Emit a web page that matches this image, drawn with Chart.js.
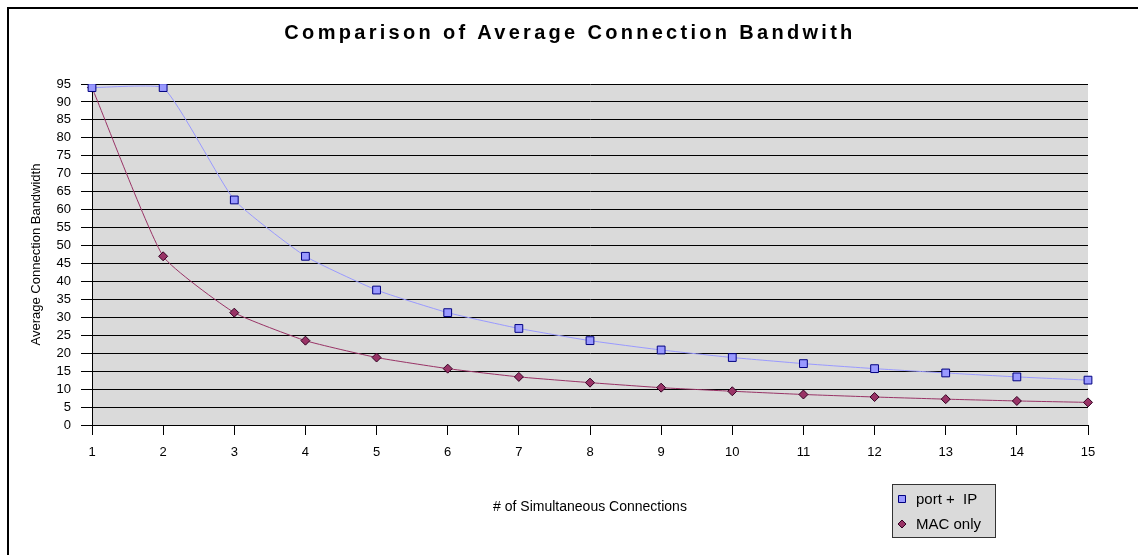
<!DOCTYPE html>
<html lang="en">

<head>
  <meta charset="UTF-8">
  <title>Comparison of Average Connection Bandwith</title>
  <script src="https://cdn.jsdelivr.net/npm/chart.js"></script>
  <style>
    body { margin: 0; background: #fff; }
    canvas { display: block; }
  </style>
</head>

<body>
  <canvas id="meuGrafico" width="1138" height="555"></canvas>
  <script>
    // dados
    const conexoes = ['1', '2', '3', '4', '5', '6', '7', '8', '9', '10', '11', '12', '13', '14', '15'];
    const portIp = [94, 94, 62.7, 47, 37.6, 31.3, 26.9, 23.5, 20.9, 18.8, 17.1, 15.7, 14.5, 13.4, 12.5];
    const macOnly = [94, 47, 31.3, 23.5, 18.8, 15.7, 13.4, 11.8, 10.4, 9.4, 8.5, 7.8, 7.2, 6.7, 6.3];
    const yMin = 0, yMax = 95, yStep = 5;

    const tituloTexto = 'Comparison of Average Connection Bandwith';
    const fonte = "'Liberation Sans', Arial, sans-serif";

    // fundo cinza, moldura, título e legenda
    const extras = {
      id: 'extras',
      beforeDraw(chart) {
        const { ctx, chartArea: a } = chart;
        ctx.save();
        ctx.fillStyle = '#fff';
        ctx.fillRect(0, 0, chart.width, chart.height);
        ctx.fillStyle = '#dadada';
        ctx.fillRect(a.left, a.top, a.right - a.left, a.bottom - a.top);
        ctx.strokeStyle = '#000';
        ctx.lineWidth = 2;
        ctx.strokeRect(8, 8, chart.width + 20, chart.height + 20);
        ctx.restore();
      },
      afterDraw(chart) {
        const ctx = chart.ctx;
        ctx.save();
        // título
        ctx.font = 'bold 20px ' + fonte;
        ctx.letterSpacing = '3.3px';
        ctx.fillStyle = '#000';
        ctx.textAlign = 'center';
        ctx.textBaseline = 'middle';
        ctx.fillText(tituloTexto, 570, 33);
        ctx.letterSpacing = '0px';

        // legenda
        ctx.fillStyle = '#dadada';
        ctx.fillRect(892, 484, 103, 53);
        ctx.strokeStyle = '#333';
        ctx.lineWidth = 1;
        ctx.strokeRect(892.5, 484.5, 103, 53);
        ctx.font = '15px ' + fonte;
        ctx.textAlign = 'left';
        chart.data.datasets.forEach((ds, i) => {
          const y = 499 + i * 25;
          ctx.fillStyle = ds.pointBackgroundColor;
          ctx.strokeStyle = ds.pointBorderColor;
          ctx.beginPath();
          if (ds.pointStyle === 'rect') {
            ctx.rect(898.5, y - 3.5, 7, 7);
          } else {
            ctx.moveTo(902, y - 4);
            ctx.lineTo(906, y);
            ctx.lineTo(902, y + 4);
            ctx.lineTo(898, y);
            ctx.closePath();
          }
          ctx.fill();
          ctx.stroke();
          ctx.fillStyle = '#000';
          ctx.fillText(ds.label, 916, y + 1);
        });
        ctx.restore();
      }
    };

    const ctx = document.getElementById('meuGrafico').getContext('2d');
    const data = {
      labels: conexoes,
      datasets: [{
        label: 'port +  IP',
        data: portIp,
        borderColor: '#9999ff',
        borderWidth: 1,
        pointStyle: 'rect',
        pointRadius: 5.5,
        pointBackgroundColor: '#9999ff',
        pointBorderColor: '#000080',
        pointBorderWidth: 1,
        tension: 0.15
      }, {
        label: 'MAC only',
        data: macOnly,
        borderColor: '#993366',
        borderWidth: 1,
        pointStyle: 'rectRot',
        pointRadius: 4.5,
        pointBackgroundColor: '#993366',
        pointBorderColor: '#330022',
        pointBorderWidth: 1,
        tension: 0.15
      }]
    };
    const options = {
      responsive: false,
      animation: false,
      layout: { padding: { top: 84, left: 8, right: 50, bottom: 0 } },
      plugins: {
        legend: { display: false },
        tooltip: { enabled: false }
      },
      scales: {
        x: {
          type: 'category',
          offset: false,
          afterFit(scale) { scale.height = 130; },
          grid: { drawOnChartArea: false, color: '#000', tickLength: 10, tickColor: '#000' },
          border: { color: '#000' },
          ticks: { color: '#000', padding: 10, autoSkip: false, font: { family: fonte, size: 13 }, maxRotation: 0 },
          title: {
            display: true,
            text: '# of Simultaneous Connections',
            color: '#000',
            font: { family: fonte, size: 14 },
            padding: { top: 0, bottom: 39 }
          }
        },
        y: {
          min: yMin,
          max: yMax,
          afterFit(scale) { scale.width = 84; },
          grid: { color: '#000', tickLength: 11, tickColor: '#000' },
          border: { color: '#000' },
          ticks: { stepSize: yStep, autoSkip: false, color: '#000', padding: 10, font: { family: fonte, size: 13 } },
          title: {
            display: true,
            text: 'Average Connection Bandwidth',
            color: '#000',
            font: { family: fonte, size: 13 },
            padding: { top: 21, bottom: 0 }
          }
        }
      }
    };
    new Chart(ctx, { type: 'line', data: data, options: options, plugins: [extras] });
  </script>
</body>

</html>
